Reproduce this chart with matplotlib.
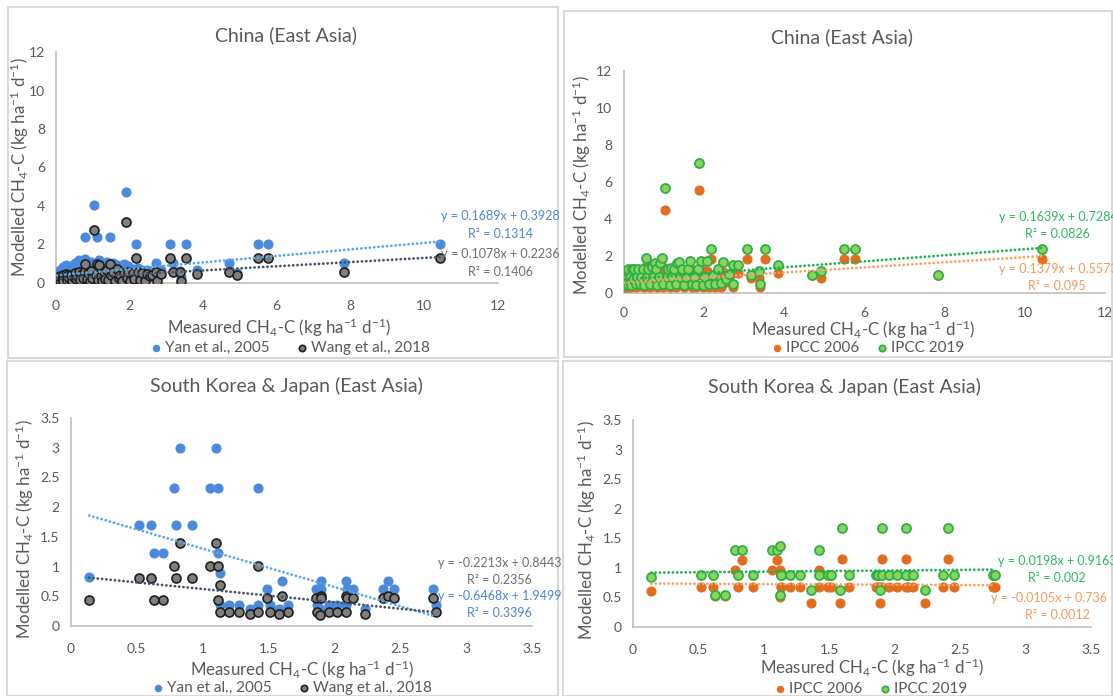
import matplotlib
matplotlib.use('Agg')
import matplotlib.pyplot as plt
from matplotlib.patches import Rectangle
import numpy as np

plt.rcParams['font.family'] = ['Lato', 'DejaVu Sans']
plt.rcParams['mathtext.fontset'] = 'custom'
plt.rcParams['mathtext.rm'] = 'Lato'
plt.rcParams['mathtext.it'] = 'Lato:italic'
plt.rcParams['mathtext.bf'] = 'Lato:bold'

# ---------------- data: China (East Asia) ----------------
china_measured = [0.02, 0.05, 0.08, 0.10, 0.12, 0.15, 0.18, 0.20, 0.24, 0.27, 0.30, 0.33, 0.36, 0.40,
                  0.44, 0.48, 0.52, 0.55, 0.58, 0.62, 0.66, 0.70, 0.74, 0.78, 0.80, 0.84, 0.88, 0.92,
                  0.95, 0.98, 1.04, 1.08, 1.12, 1.15, 1.18, 1.22, 1.26, 1.30, 1.34, 1.38, 1.42, 1.46,
                  1.50, 1.55, 1.60, 1.65, 1.70, 1.75, 1.80, 1.85, 1.89, 1.92, 1.97, 2.02, 2.08, 2.12,
                  2.17, 2.22, 2.28, 2.35, 2.42, 2.48, 2.55, 2.62, 2.72, 2.74, 2.86, 3.09, 3.18, 3.38,
                  3.41, 3.53, 3.84, 4.70, 4.93, 5.50, 5.77, 7.84, 10.43]
china_yan = [0.22, 0.40, 0.55, 0.30, 0.70, 0.45, 0.85, 0.25, 0.62, 0.95, 0.35, 0.78, 0.50, 0.90,
             0.28, 0.65, 1.05, 0.40, 0.75, 1.20, 0.30, 0.88, 0.55, 1.25, 2.37, 0.45, 0.95, 0.30,
             1.10, 0.60, 4.05, 0.85, 2.37, 0.35, 1.20, 0.70, 0.28, 1.00, 0.50, 1.10, 0.38, 2.37,
             0.80, 1.05, 0.30, 0.95, 0.55, 0.85, 0.32, 1.00, 4.71, 0.60, 0.90, 0.35, 0.75, 0.45,
             2.03, 0.80, 0.40, 0.70, 0.60, 0.65, 0.50, 0.55, 1.04, 0.30, 0.70, 2.03, 1.04, 0.60,
             0.30, 2.03, 0.70, 1.05, 0.50, 2.03, 2.03, 1.05, 2.03]
china_wang = [0.10, 0.18, 0.30, 0.12, 0.38, 0.22, 0.42, 0.10, 0.35, 0.45, 0.16, 0.40, 0.25, 0.42,
              0.12, 0.30, 0.50, 0.20, 0.36, 0.55, 0.13, 0.48, 0.25, 0.62, 1.00, 0.20, 0.50, 0.12,
              0.60, 0.28, 2.74, 0.42, 1.00, 0.15, 0.95, 0.35, 0.10, 0.55, 0.22, 0.70, 0.15, 1.00,
              0.40, 0.55, 0.12, 0.72, 0.25, 0.40, 0.12, 0.50, 3.15, 0.25, 0.55, 0.12, 0.50, 0.20,
              1.30, 0.55, 0.15, 0.50, 0.12, 0.45, 0.35, 0.40, 0.55, 0.12, 0.48, 1.30, 0.57, 0.57,
              0.12, 1.30, 0.45, 0.57, 0.42, 1.30, 1.30, 0.57, 1.30]
china_ipcc2006 = [0.30, 0.35, 0.52, 0.30, 0.95, 0.60, 0.30, 0.95, 0.52, 1.00, 0.30, 0.62, 0.95, 0.38,
                  0.62, 0.95, 0.30, 1.45, 0.62, 0.95, 0.35, 1.05, 0.62, 1.20, 0.95, 0.30, 0.62, 1.25,
                  1.45, 0.35, 4.50, 0.62, 0.95, 0.30, 1.05, 0.62, 0.95, 0.35, 1.20, 1.25, 0.62, 0.95,
                  0.30, 0.62, 0.95, 1.30, 0.35, 0.62, 0.30, 0.95, 5.59, 1.30, 0.30, 0.62, 1.20, 0.35,
                  1.86, 0.62, 0.30, 1.08, 0.35, 1.15, 0.62, 0.85, 1.08, 0.32, 1.08, 1.86, 0.83, 0.83,
                  0.32, 1.86, 1.08, 0.97, 0.83, 1.86, 1.86, 0.97, 1.86]
china_ipcc2019 = [0.45, 0.48, 0.80, 0.44, 1.30, 0.85, 0.45, 1.28, 0.78, 1.30, 0.48, 0.88, 1.30, 0.50,
                  0.85, 1.28, 0.45, 1.91, 0.85, 1.30, 0.48, 1.40, 0.85, 1.60, 1.30, 0.45, 0.85, 1.62,
                  1.87, 0.48, 5.66, 0.88, 1.30, 0.45, 1.35, 0.85, 1.30, 0.50, 1.60, 1.65, 0.85, 1.30,
                  0.45, 0.88, 1.28, 1.73, 0.50, 0.85, 0.45, 1.30, 7.05, 1.73, 0.45, 0.85, 1.75, 0.50,
                  2.36, 0.95, 0.50, 1.30, 0.55, 1.70, 0.75, 1.00, 1.53, 0.49, 1.53, 2.36, 0.99, 1.19,
                  0.49, 2.36, 1.53, 0.99, 1.19, 2.36, 2.36, 0.99, 2.36]

# ---------------- data: South Korea & Japan (East Asia) ----------------
skj_measured = [0.14, 0.52, 0.61, 0.63, 0.70, 0.78, 0.80, 0.83, 0.92, 1.06, 1.10, 1.12, 1.12, 1.13,
                1.13, 1.20, 1.28, 1.36, 1.42, 1.42, 1.49, 1.51, 1.58, 1.60, 1.65, 1.86, 1.87, 1.89,
                1.90, 1.90, 1.96, 2.02, 2.09, 2.10, 2.09, 2.14, 2.23, 2.37, 2.41, 2.45, 2.75, 2.77]
skj_yan = [0.82, 1.70, 1.70, 1.22, 1.22, 2.33, 1.70, 2.99, 1.70, 2.33, 2.99, 2.33, 1.22, 0.89,
           0.35, 0.35, 0.35, 0.28, 2.33, 0.35, 0.62, 0.35, 0.28, 0.75, 0.35, 0.62, 0.35, 0.28,
           0.75, 0.62, 0.35, 0.35, 0.75, 0.62, 0.35, 0.62, 0.28, 0.62, 0.75, 0.62, 0.62, 0.35]
skj_wang = [0.43, 0.80, 0.80, 0.43, 0.43, 1.01, 0.80, 1.39, 0.80, 1.01, 1.39, 1.01, 0.43, 0.69,
            0.23, 0.23, 0.23, 0.20, 1.01, 0.23, 0.47, 0.23, 0.20, 0.51, 0.23, 0.47, 0.23, 0.19,
            0.51, 0.47, 0.23, 0.23, 0.51, 0.47, 0.23, 0.47, 0.20, 0.47, 0.51, 0.47, 0.47, 0.23]
skj_ipcc2006 = [0.61, 0.67, 0.67, 0.52, 0.52, 0.97, 0.67, 1.13, 0.67, 0.97, 1.13, 0.97, 0.51, 0.67,
                0.67, 0.67, 0.67, 0.41, 0.97, 0.67, 0.67, 0.67, 0.41, 1.15, 0.67, 0.67, 0.67, 0.41,
                1.15, 0.67, 0.67, 0.67, 1.15, 0.67, 0.67, 0.67, 0.41, 0.67, 1.15, 0.67, 0.67, 0.67]
skj_ipcc2019 = [0.85, 0.88, 0.88, 0.54, 0.54, 1.30, 0.88, 1.30, 0.88, 1.30, 1.30, 1.37, 0.54, 0.88,
                0.88, 0.88, 0.88, 0.62, 1.30, 0.88, 0.88, 0.88, 0.62, 1.68, 0.88, 0.88, 0.88, 0.62,
                1.68, 0.88, 0.88, 0.88, 1.68, 0.88, 0.88, 0.88, 0.62, 0.88, 1.68, 0.88, 0.88, 0.88]

# trendline coefficients (slope, intercept) and R² as printed
fit_china_yan = (0.1689, 0.3928, 0.1314)
fit_china_wang = (0.1078, 0.2236, 0.1406)
fit_china_2006 = (0.1379, 0.5573, 0.095)
fit_china_2019 = (0.1639, 0.7284, 0.0826)
fit_skj_yan = (-0.6468, 1.9499, 0.3396)
fit_skj_wang = (-0.2213, 0.8443, 0.2356)
fit_skj_2006 = (-0.0105, 0.736, 0.0012)
fit_skj_2019 = (0.0198, 0.9163, 0.002)

china_ticks = [0, 2, 4, 6, 8, 10, 12]
skj_ticks = [0, 0.5, 1, 1.5, 2, 2.5, 3, 3.5]
skj_tick_labels = ['0', '0.5', '1', '1.5', '2', '2.5', '3', '3.5']

# ---------------- styling ----------------
W, H = 1113, 696
fig = plt.figure(figsize=(W / 100, H / 100), dpi=100)
fig.patch.set_facecolor('white')

def fx(px):
    return px / W

def fy(py):
    return 1 - py / H

TXT = '#595959'
AXC = '#BFBFBF'
BLUE = '#4A89DC'
BLUE_LINE = '#5DA5E8'
BLUE_TXT = '#4F86D6'
GREYF = '#7F7F7F'
GREY_EDGE = '#1E1E1E'
GREY_LINE = '#44546A'
GREY_TXT = '#6E6E6E'
ORANGE = '#E36C1E'
ORANGE_LINE = '#F4A46A'
ORANGE_TXT = '#F29A5C'
GREEN_F = '#8AD45A'
GREEN_E = '#2EAF4A'
GREEN_LINE = '#22B14C'
GREEN_TXT = '#2DB862'

YLABEL = 'Modelled CH$_4$-C (kg ha$^{-1}$ d$^{-1}$)'
XLABEL = 'Measured CH$_4$-C (kg ha$^{-1}$ d$^{-1}$)'

# panel frames
for (x0, y0, x1, y1) in [(8, 7, 558, 358), (564, 11, 1112, 357), (7, 361, 558, 696), (563, 361, 1112, 696)]:
    fig.add_artist(Rectangle((fx(x0), fy(y1)), fx(x1) - fx(x0), fy(y0) - fy(y1),
                             transform=fig.transFigure, fill=False, edgecolor='#D9D9D9', lw=1.5))


def make_axes(l, r, t, b, xpad=12):
    ax = fig.add_axes([fx(l), fy(b), fx(r) - fx(l), fy(t) - fy(b)])
    for s in ['top', 'right']:
        ax.spines[s].set_visible(False)
    for s in ['left', 'bottom']:
        ax.spines[s].set_color(AXC)
        ax.spines[s].set_linewidth(1.2)
    ax.tick_params(length=0, labelsize=10, labelcolor=TXT)
    ax.tick_params(axis='x', pad=xpad)
    ax.tick_params(axis='y', pad=8)
    ax.set_facecolor('none')
    return ax


def trend(ax, x, fit, color):
    a, b, _ = fit
    xs = np.array([min(x), max(x)])
    ax.plot(xs, a * xs + b, color=color, lw=2.0, linestyle=(0, (0.05, 1.5)),
            dash_capstyle='round', zorder=5)


def eqtext(left, rx, fit, color, ytop, rtop):
    a, b, r2 = fit
    eq = f'y = {a:g}x + {b:g}'
    fig.text(fx(left), fy(ytop), eq, ha='left', va='center', fontsize=9, color=color)
    fig.text(fx(rx), fy(rtop), f'R² = {r2:g}', ha='center', va='center', fontsize=9, color=color)


def labels(title, tx, ty, ylx, yly, xlx, xly):
    fig.text(fx(tx), fy(ty), title, ha='center', va='center', fontsize=14, color=TXT)
    fig.text(fx(ylx), fy(yly), YLABEL, ha='center', va='center', rotation=90, fontsize=12.2, color=TXT)
    fig.text(fx(xlx), fy(xly), XLABEL, ha='center', va='center', fontsize=12.2, color=TXT)


def legend(ax, handles, cx, cy, colsp):
    ax.legend(handles=handles, loc='center', bbox_to_anchor=(fx(cx), fy(cy)), bbox_transform=fig.transFigure,
              ncol=2, frameon=False, fontsize=11, labelcolor=TXT, handletextpad=0.1, columnspacing=colsp,
              markerscale=0.7, borderpad=0, handlelength=1.0)


S = 42
# ---------- Panel 1 ----------
ax1 = make_axes(56, 497.5, 52, 283)
h1 = ax1.scatter(china_measured, china_yan, s=S, color=BLUE, edgecolor=BLUE, lw=0.8, zorder=3, label='Yan et al., 2005')
h2 = ax1.scatter(china_measured, china_wang, s=S, color=GREYF, edgecolor=GREY_EDGE, lw=1.2, zorder=4, label='Wang et al., 2018')
trend(ax1, china_measured, fit_china_yan, BLUE_LINE)
trend(ax1, china_measured, fit_china_wang, GREY_LINE)
ax1.set_xlim(0, 12); ax1.set_ylim(0, 12)
ax1.set_xticks(china_ticks); ax1.set_yticks(china_ticks)
labels('China (East Asia)', 286, 35, 20, 167, 279, 328)
eqtext(441, 500, fit_china_yan, BLUE_TXT, 216, 234)
eqtext(441, 500, fit_china_wang, GREY_TXT, 254, 272)
legend(ax1, [h1, h2], 289, 348, 1.6)

# ---------- Panel 2 ----------
ax2 = make_axes(623.5, 1105, 71, 293, xpad=10)
g1 = ax2.scatter(china_measured, china_ipcc2006, s=S, color=ORANGE, edgecolor=ORANGE, lw=0.8, zorder=3, label='IPCC 2006')
g2 = ax2.scatter(china_measured, china_ipcc2019, s=S, color=GREEN_F, edgecolor=GREEN_E, lw=1.3, zorder=4, label='IPCC 2019')
trend(ax2, china_measured, fit_china_2006, ORANGE_LINE)
trend(ax2, china_measured, fit_china_2019, GREEN_LINE)
ax2.set_xlim(0, 12); ax2.set_ylim(0, 12)
ax2.set_xticks(china_ticks); ax2.set_yticks(china_ticks)
labels('China (East Asia)', 842, 37, 582, 185, 863, 330)
eqtext(999, 1057, fit_china_2019, GREEN_TXT, 217, 234)
eqtext(999, 1057, fit_china_2006, ORANGE_TXT, 269, 286)
legend(ax2, [g1, g2], 867, 348, 1.0)

# ---------- Panel 3 ----------
ax3 = make_axes(70.7, 532, 418, 626)
k1 = ax3.scatter(skj_measured, skj_yan, s=S, color=BLUE, edgecolor=BLUE, lw=0.8, zorder=3, label='Yan et al., 2005')
k2 = ax3.scatter(skj_measured, skj_wang, s=S, color=GREYF, edgecolor=GREY_EDGE, lw=1.2, zorder=4, label='Wang et al., 2018')
trend(ax3, skj_measured, fit_skj_yan, BLUE_LINE)
trend(ax3, skj_measured, fit_skj_wang, GREY_LINE)
ax3.set_xlim(0, 3.5); ax3.set_ylim(0, 3.5)
ax3.set_xticks(skj_ticks, skj_tick_labels); ax3.set_yticks(skj_ticks, skj_tick_labels)
labels('South Korea & Japan (East Asia)', 286, 386, 25, 529, 302, 670)
eqtext(437.5, 499, fit_skj_wang, GREY_TXT, 563, 580)
eqtext(437.5, 499, fit_skj_yan, BLUE_TXT, 596, 613)
legend(ax3, [k1, k2], 291, 688, 1.6)

# ---------- Panel 4 ----------
ax4 = make_axes(633, 1091, 420, 627)
m1 = ax4.scatter(skj_measured, skj_ipcc2006, s=S, color=ORANGE, edgecolor=ORANGE, lw=0.8, zorder=3, label='IPCC 2006')
m2 = ax4.scatter(skj_measured, skj_ipcc2019, s=S, color=GREEN_F, edgecolor=GREEN_E, lw=1.3, zorder=4, label='IPCC 2019')
trend(ax4, skj_measured, fit_skj_2006, ORANGE_LINE)
trend(ax4, skj_measured, fit_skj_2019, GREEN_LINE)
ax4.set_xlim(0, 3.5); ax4.set_ylim(0, 3.5)
ax4.set_xticks(skj_ticks, skj_tick_labels); ax4.set_yticks(skj_ticks, skj_tick_labels)
labels('South Korea & Japan (East Asia)', 844, 387, 587, 530, 872, 668)
eqtext(998.5, 1057, fit_skj_2019, GREEN_TXT, 561, 578)
eqtext(991, 1057, fit_skj_2006, ORANGE_TXT, 598, 615)
legend(ax4, [m1, m2], 870, 689, 1.0)

fig.savefig('out.png', dpi=100)
